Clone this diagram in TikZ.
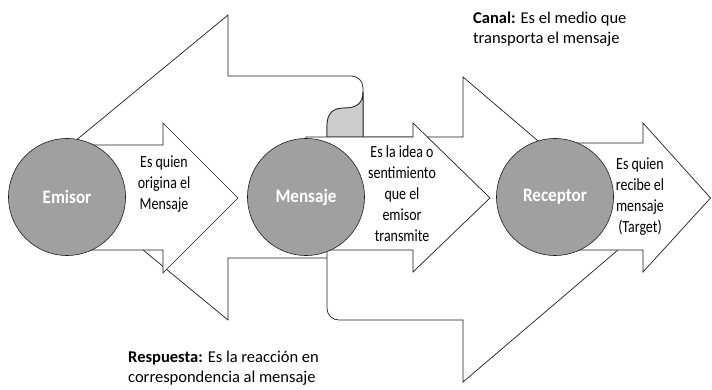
\documentclass[tikz,border=0pt]{standalone}
\usepackage{fontspec}
\setmainfont{Carlito}
\newfontfamily\condfont[FakeStretch=0.82]{Carlito}
\newfontfamily\labfont[FakeStretch=0.9]{Carlito}
\definecolor{circgray}{RGB}{160,160,160}
\definecolor{curlgray}{RGB}{205,205,205}
\definecolor{edge}{RGB}{30,30,30}
\begin{document}
\begin{tikzpicture}[x=1pt,y=-1pt,
  shapebox/.style={draw=edge,line width=0.7pt,fill=white,line join=miter},
  curlbox/.style={draw=edge,line width=0.7pt,fill=curlgray},
  circ/.style={circle,fill=circgray,draw=edge,line width=0.6pt,minimum size=117pt,inner sep=0pt,
    text=white,font=\labfont\bfseries\fontsize{19}{22}\selectfont},
  desc/.style={align=center,inner sep=0pt,font=\condfont\fontsize{17}{21}\selectfont},
  note/.style={align=left,anchor=north west,inner sep=0pt,font=\fontsize{16.5}{19.5}\selectfont}]
\useasboundingbox (0,0) rectangle (712,390);
% Respuesta big arrow (pointing left)
\draw[shapebox] (43,167.5) -- (228,15) -- (228,76) -- (351,76)
  .. controls (358,76) and (363,81) .. (363,88) -- (363,258) -- (228,258) -- (228,320) -- cycle;
% Canal big arrow (pointing right)
\draw[shapebox] (363,137) -- (463,137) -- (463,77) -- (642,229.5) -- (463,382) -- (463,320) -- (339,320)
  .. controls (332,320) and (327,315) .. (327,308) -- (327,126)
  .. controls (327,113) and (333,108) .. (345,108)
  .. controls (357,108) and (363,103) .. (363,92) -- cycle;
% curl (back of ribbon)
\draw[curlbox] (327,126) .. controls (327,113) and (333,108) .. (345,108)
  .. controls (357,108) and (363,103) .. (363,92) -- (363,137) -- (327,137) -- cycle;
% small arrows
\draw[shapebox] (67,145) -- (163,145) -- (163,123) -- (238,198) -- (163,273) -- (163,250) -- (67,250) -- cycle;
\draw[shapebox] (306,137) -- (413,137) -- (413,123) -- (490,198) -- (413,272) -- (413,250) -- (306,250) -- cycle;
\draw[shapebox] (555,143) -- (643,143) -- (643,123) -- (710.5,198) -- (643,272) -- (643,250) -- (555,250) -- cycle;
% circles
\node[circ] (emisor) at (67,197) {Emisor};
\node[circ] (mensaje) at (306,197) {Mensaje};
\node[circ] (receptor) at (555,197) {Receptor};
% descriptions
\node[desc] (d1) at (164,184) {Es quien\\origina el\\Mensaje};
\node[desc] (d2) at (402,194) {Es la idea o\\sentimiento\\que el\\emisor\\transmite};
\node[desc] (d3) at (640,197) {Es quien\\recibe el\\mensaje\\(Target)};
% notes
\node[note] (canal) at (473,12) {\textbf{Canal:} Es el medio que\\transporta el mensaje};
\node[note] (resp) at (128,351) {\textbf{Respuesta:} Es la reacción en\\correspondencia al mensaje};
\end{tikzpicture}
\end{document}
